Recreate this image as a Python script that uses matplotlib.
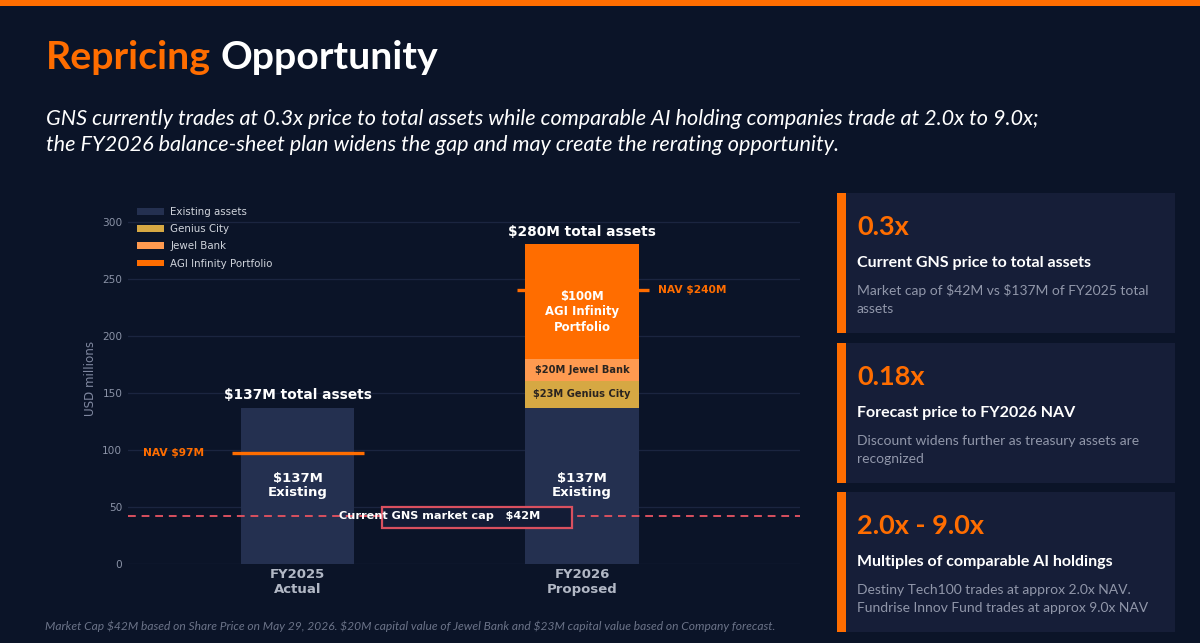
import matplotlib
matplotlib.use("Agg")
import matplotlib.pyplot as plt
from matplotlib.patches import Rectangle
import numpy as np

plt.rcParams["text.parse_math"] = False

# ---------------- data ----------------
categories = ["FY2025\nActual", "FY2026\nProposed"]
existing = [137, 137]
genius_city = [0, 23]
jewel_bank = [0, 20]
agi_portfolio = [0, 100]
nav_values = [97, 240]
nav_labels = ["NAV $97M", "NAV $240M"]
total_labels = ["$137M total assets", "$280M total assets"]
market_cap = 42
market_cap_label = "Current GNS market cap   $42M"
legend_labels = ["Existing assets", "Genius City", "Jewel Bank", "AGI Infinity Portfolio"]
y_ticks = [0, 50, 100, 150, 200, 250, 300]

card_numbers = ["0.3x", "0.18x", "2.0x - 9.0x"]
card_titles = ["Current GNS price to total assets",
               "Forecast price to FY2026 NAV",
               "Multiples of comparable AI holdings"]
card_descs = ["Market cap of $42M vs $137M of FY2025 total\nassets",
              "Discount widens further as treasury assets are\nrecognized",
              "Destiny Tech100 trades at approx 2.0x NAV.\nFundrise Innov Fund trades at approx 9.0x NAV"]

# ---------------- style ----------------
BG = "#0b1428"
CARD = "#161e38"
ORANGE = "#ff6d00"
C_EXIST = "#243050"
C_GENIUS = "#d6a843"
C_JEWEL = "#ff9a50"
C_AGI = "#ff6d00"
RED = "#d9505f"
UI = ["Lato", "DejaVu Sans"]

W, H = 1200, 643
fig = plt.figure(figsize=(12, 6.43), dpi=100, facecolor=BG)

def fx(x):
    return x / W

def fy(y):
    return 1 - y / H

# top orange strip
fig.add_artist(Rectangle((0, fy(6)), 1, 6 / H, transform=fig.transFigure,
                         facecolor=ORANGE, edgecolor="none"))

# title
t1 = fig.text(fx(46), fy(69), "Repricing", color=ORANGE, fontsize=28.3,
              fontweight="bold", family=UI, va="baseline", ha="left")
fig.canvas.draw()
bb = t1.get_window_extent()
fig.text(bb.x1 / W + fx(9), fy(69), "Opportunity", color="white", fontsize=28.3,
         fontweight="bold", family=UI, va="baseline", ha="left")

# subtitle
fig.text(fx(46), fy(125),
         "GNS currently trades at 0.3x price to total assets while comparable AI holding companies trade at 2.0x to 9.0x;",
         color="white", fontsize=15.6, style="italic", family=UI, va="baseline")
fig.text(fx(46), fy(151),
         "the FY2026 balance-sheet plan widens the gap and may create the rerating opportunity.",
         color="white", fontsize=15.6, style="italic", family=UI, va="baseline")

# ---------------- chart ----------------
ax_left, ax_right, ax_top, ax_bot = 128, 800, 193, 564
ax = fig.add_axes([fx(ax_left), fy(ax_bot), (ax_right - ax_left) / W, (ax_bot - ax_top) / H])
ax.set_facecolor(BG)
x = np.arange(len(categories))
bw = 0.4

b0 = ax.bar(x, existing, bw, color=C_EXIST, zorder=3, label=legend_labels[0])
bottom1 = np.array(existing)
b1 = ax.bar(x, genius_city, bw, bottom=bottom1, color=C_GENIUS, zorder=3, label=legend_labels[1])
bottom2 = bottom1 + np.array(genius_city)
b2 = ax.bar(x, jewel_bank, bw, bottom=bottom2, color=C_JEWEL, zorder=3, label=legend_labels[2])
bottom3 = bottom2 + np.array(jewel_bank)
b3 = ax.bar(x, agi_portfolio, bw, bottom=bottom3, color=C_AGI, zorder=3, label=legend_labels[3])
totals = bottom3 + np.array(agi_portfolio)

ax.set_xlim(-0.596, 1.766)
ax.set_ylim(0, 325)
ax.set_yticks(y_ticks)
ax.grid(axis="y", color="#1b2540", linewidth=0.9, zorder=0)
for s in ax.spines.values():
    s.set_visible(False)
ax.tick_params(axis="y", length=0, colors="#8a92a6", labelsize=7.6, pad=4)
ax.tick_params(axis="x", length=0, colors="#b2b8c5", labelsize=9.5, pad=3)
ax.set_xticks(x)
ax.set_xticklabels(categories, fontweight="bold")
ax.set_ylabel("USD millions", color="#8088a0", fontsize=8.6, labelpad=4)

# segment labels
for i in range(len(x)):
    ax.text(x[i], existing[i] / 2, f"${existing[i]}M\nExisting", ha="center", va="center",
            color="white", fontsize=9.5, fontweight="bold", zorder=6, linespacing=1.1)
    if genius_city[i]:
        ax.text(x[i], bottom1[i] + genius_city[i] / 2, f"${genius_city[i]}M Genius City",
                ha="center", va="center", color="#2a2420", fontsize=7.1, fontweight="bold", zorder=6)
    if jewel_bank[i]:
        ax.text(x[i], bottom2[i] + jewel_bank[i] / 2, f"${jewel_bank[i]}M Jewel Bank",
                ha="center", va="center", color="#2a2420", fontsize=7.1, fontweight="bold", zorder=6)
    if agi_portfolio[i]:
        ax.text(x[i], bottom3[i] + agi_portfolio[i] * 0.41, f"${agi_portfolio[i]}M\nAGI Infinity\nPortfolio",
                ha="center", va="center", color="white", fontsize=8.4, fontweight="bold",
                zorder=6, linespacing=1.25)
    ax.text(x[i], totals[i] + 5, total_labels[i], ha="center", va="bottom", color="white",
            fontsize=9.9, fontweight="bold", zorder=6)

# NAV markers
nav_z = [5, 2]
for i in range(len(x)):
    ax.plot([x[i] - 0.23, x[i] + 0.234], [nav_values[i], nav_values[i]], color=ORANGE,
            linewidth=2.4, zorder=nav_z[i], solid_capstyle="butt")
ax.text(x[0] - 0.33, nav_values[0], nav_labels[0], ha="right", va="center", color=ORANGE,
        fontsize=7.7, fontweight="bold", zorder=6)
ax.text(x[1] + 0.267, nav_values[1], nav_labels[1], ha="left", va="center", color=ORANGE,
        fontsize=7.7, fontweight="bold", zorder=6)

# market cap line and box
ax.axhline(market_cap, color=RED, linestyle=(0, (4, 3)), linewidth=1.4, zorder=4)
ax.add_patch(Rectangle((0.297, 31.6), 0.668, 18.4, facecolor="#131c36", edgecolor=RED,
                       linewidth=1.6, zorder=5))
ax.text(0.5, market_cap, market_cap_label, ha="center", va="center", color="white",
        fontsize=8.1, fontweight="bold", zorder=6)

leg = fig.legend(handles=[b0, b1, b2, b3], labels=legend_labels, loc="upper left",
                 bbox_to_anchor=(fx(137), fy(207)), frameon=False, fontsize=7.4,
                 handlelength=2.6, handleheight=0.65, labelspacing=0.7, handletextpad=0.65,
                 borderaxespad=0, borderpad=0)
for t in leg.get_texts():
    t.set_color("#d0d4dc")

# ---------------- cards ----------------
card_tops = [193, 343, 492]
card_h = 140
for i, top in enumerate(card_tops):
    fig.add_artist(Rectangle((fx(837), fy(top + card_h)), (1175 - 837) / W, card_h / H,
                             transform=fig.transFigure, facecolor=CARD, edgecolor="none"))
    fig.add_artist(Rectangle((fx(837), fy(top + card_h)), 9 / W, card_h / H,
                             transform=fig.transFigure, facecolor=ORANGE, edgecolor="none"))
    fig.text(fx(857), fy(top + 42), card_numbers[i], color=ORANGE, fontsize=19.5,
             fontweight="bold", family=UI, va="baseline")
    fig.text(fx(857), fy(top + 74), card_titles[i], color="white", fontsize=11.5,
             fontweight="bold", family=UI, va="baseline")
    lines = card_descs[i].split("\n")
    for j, ln in enumerate(lines):
        fig.text(fx(857), fy(top + 102 + 18 * j), ln, color="#9197aa", fontsize=10,
                 family=UI, va="baseline")

# footnote
fig.text(fx(45), fy(630),
         "Market Cap $42M based on Share Price on May 29, 2026. $20M capital value of Jewel Bank and $23M capital value based on Company forecast.",
         color="#6b7388", fontsize=8.65, style="italic", family=UI, va="baseline")

fig.savefig("out.png", dpi=100, facecolor=BG)
